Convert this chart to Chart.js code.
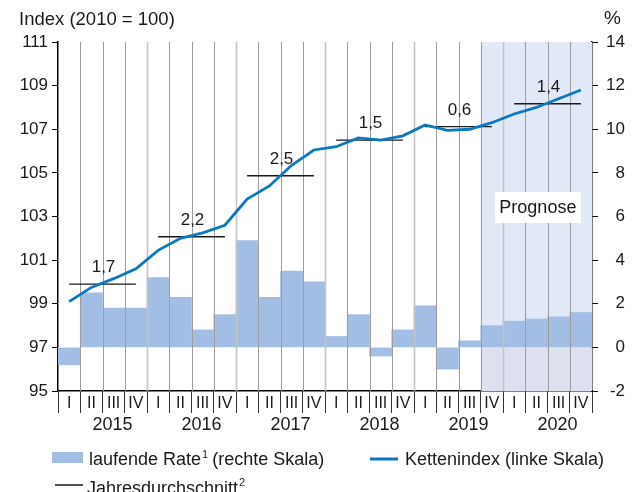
<!DOCTYPE html>
<html>
<head>
<meta charset="utf-8">
<script src="https://cdn.jsdelivr.net/npm/chart.js@4"></script>
<style>
  html, body { margin: 0; padding: 0; background: #fff; }
  #wrap { width: 634px; height: 492px; position: relative; }
</style>
</head>
<body>
<div id="wrap"><canvas id="chart"></canvas></div>
<script>
// Quarterly data 2015–2020
const years = ['2015', '2016', '2017', '2018', '2019', '2020'];
const quarterNames = ['I', 'II', 'III', 'IV'];

// laufende Rate (% , right scale)
const rate = [-0.8, 2.5, 1.8, 1.8,
              3.2, 2.3, 0.8, 1.5,
              4.9, 2.3, 3.5, 3.0,
              0.5, 1.5, -0.4, 0.8,
              1.9, -1.0, 0.3, 1.0,
              1.2, 1.3, 1.4, 1.6];

// Kettenindex (2010 = 100, left scale)
const chainIndex = [99.1, 99.75, 100.15, 100.6,
                    101.45, 102.0, 102.25, 102.6,
                    103.8, 104.4, 105.35, 106.05,
                    106.2, 106.6, 106.5, 106.7,
                    107.2, 106.95, 107.0, 107.3,
                    107.7, 108.0, 108.4, 108.8];

// Jahresdurchschnitt of the index and the annual rate printed above it
const annualAverage = [99.9, 102.07, 104.87, 106.5, 107.12, 108.17];
const annualRateLabels = ['1,7', '2,2', '2,5', '1,5', '0,6', '1,4'];

// first forecast quarter (2019 IV)
const forecastStart = 19;

const quarterLabels = years.flatMap(y => quarterNames.map(q => q + ' ' + y));
// average drawn from the first to the last quarter of each year
const averagePoints = annualAverage.flatMap(v => [v, null, null, v]);

const FONT = '"Liberation Sans", Arial, Helvetica, sans-serif';
const TEXT = '#1a1a1a';
const BAR = '#a3bee5';
const BLUE = '#0b78bf';

Chart.defaults.font.family = FONT;
Chart.defaults.font.size = 17;
Chart.defaults.color = TEXT;

function boundaries(xs) {
  const w = xs.getPixelForValue(1) - xs.getPixelForValue(0);
  const out = [];
  for (let i = 0; i <= quarterLabels.length; i++) {
    out.push(xs.getPixelForValue(0) - w / 2 + i * w);
  }
  return out;
}

const decorations = {
  id: 'decorations',
  beforeDatasetsDraw(chart) {
    const { ctx, chartArea: a, scales } = chart;
    const xb = boundaries(scales.x);
    const x0 = xb[forecastStart];
    const zero = scales.y1.getPixelForValue(0);
    ctx.save();
    ctx.fillStyle = '#e1e8f7';
    ctx.fillRect(x0, a.top, a.right - x0, zero - a.top);
    ctx.fillStyle = '#dde1ef';
    ctx.fillRect(x0, zero, a.right - x0, a.bottom - zero);
    ctx.restore();
  },
  afterDatasetDraw(chart, args) {
    if (args.meta.type !== 'bar') return;
    const { ctx, chartArea: a, scales } = chart;
    const xb = boundaries(scales.x);
    ctx.save();
    for (let i = 1; i < xb.length - 1; i++) {
      const yearEdge = i % 4 === 0;
      ctx.strokeStyle = yearEdge ? '#c4c4c4' : '#9c9c9c';
      ctx.lineWidth = yearEdge ? 1.6 : 1;
      ctx.beginPath();
      ctx.moveTo(Math.round(xb[i]) + 0.5, a.top);
      ctx.lineTo(Math.round(xb[i]) + 0.5, a.bottom);
      ctx.stroke();
    }
    ctx.restore();
  },
  afterDraw(chart) {
    const { ctx, chartArea: a, scales } = chart;
    const xs = scales.x, ys = scales.y;
    ctx.save();
    ctx.fillStyle = TEXT;

    // annual rate labels above the average lines
    ctx.font = '17px ' + FONT;
    ctx.textAlign = 'center';
    ctx.textBaseline = 'alphabetic';
    annualRateLabels.forEach((t, k) => {
      const xc = (xs.getPixelForValue(4 * k) + xs.getPixelForValue(4 * k + 3)) / 2 + 1;
      const yp = ys.getPixelForValue(annualAverage[k]);
      ctx.fillText(t, xc, yp - 12);
    });

    // year labels under the quarter numerals
    ctx.font = '18px ' + FONT;
    ctx.textBaseline = 'middle';
    years.forEach((y, k) => {
      const xc = (xs.getPixelForValue(4 * k + 1) + xs.getPixelForValue(4 * k + 2)) / 2 + 10;
      ctx.fillText(y, xc, 425);
    });

    // axis titles
    ctx.font = '18.5px ' + FONT;
    ctx.textAlign = 'left';
    ctx.textBaseline = 'alphabetic';
    ctx.fillText('Index (2010 = 100)', 19, 25);
    ctx.font = '19px ' + FONT;
    ctx.fillText('%', 604, 24);

    // forecast tag
    const xb = boundaries(xs);
    const bx = xb[forecastStart] + 14, bw = a.right - 11 - bx;
    ctx.fillStyle = '#fff';
    ctx.fillRect(bx, 192, bw, 31);
    ctx.fillStyle = TEXT;
    ctx.font = '18px ' + FONT;
    ctx.textAlign = 'center';
    ctx.textBaseline = 'middle';
    ctx.fillText('Prognose', bx + bw / 2, 208);

    // legend
    ctx.textAlign = 'left';
    ctx.textBaseline = 'alphabetic';
    ctx.fillStyle = BAR;
    ctx.fillRect(52, 452, 31, 11);
    ctx.fillStyle = TEXT;
    ctx.font = '18px ' + FONT;
    let tx = 89;
    ctx.fillText('laufende Rate', tx, 465);
    tx += ctx.measureText('laufende Rate').width + 1;
    ctx.font = '11px ' + FONT;
    ctx.fillText('1', tx, 458);
    tx += ctx.measureText('1').width + 4;
    ctx.font = '18px ' + FONT;
    ctx.fillText('(rechte Skala)', tx, 465);

    ctx.strokeStyle = BLUE;
    ctx.lineWidth = 3;
    ctx.beginPath();
    ctx.moveTo(370, 459);
    ctx.lineTo(398, 459);
    ctx.stroke();
    ctx.fillText('Kettenindex (linke Skala)', 405, 465);

    ctx.strokeStyle = '#1a1a1a';
    ctx.lineWidth = 1.5;
    ctx.beginPath();
    ctx.moveTo(55, 485);
    ctx.lineTo(83, 485);
    ctx.stroke();
    tx = 87;
    ctx.fillText('Jahresdurchschnitt', tx, 494);
    tx += ctx.measureText('Jahresdurchschnitt').width + 1;
    ctx.font = '11px ' + FONT;
    ctx.fillText('2', tx, 486);
    ctx.restore();
  }
};

new Chart(document.getElementById('chart'), {
  data: {
    labels: quarterLabels,
    datasets: [
      {
        type: 'line',
        label: 'Kettenindex (linke Skala)',
        data: chainIndex,
        yAxisID: 'y',
        borderColor: BLUE,
        borderWidth: 2.8,
        pointRadius: 0,
        tension: 0,
        order: 0
      },
      {
        type: 'line',
        label: 'Jahresdurchschnitt',
        data: averagePoints,
        yAxisID: 'y',
        borderColor: '#1a1a1a',
        borderWidth: 1.4,
        pointRadius: 0,
        spanGaps: true,
        segment: {
          borderColor: c => (c.p0DataIndex % 4 === 3 ? 'rgba(0,0,0,0)' : '#1a1a1a')
        },
        order: 1
      },
      {
        type: 'bar',
        label: 'laufende Rate (rechte Skala)',
        data: rate,
        yAxisID: 'y1',
        backgroundColor: BAR,
        borderWidth: 0,
        barPercentage: 1,
        categoryPercentage: 1,
        order: 2
      }
    ]
  },
  options: {
    responsive: true,
    maintainAspectRatio: false,
    animation: false,
    layout: { padding: { top: 42, right: 9, bottom: 0, left: 0 } },
    plugins: { legend: { display: false }, tooltip: { enabled: false } },
    scales: {
      x: {
        type: 'category',
        offset: true,
        grid: { offset: true, drawOnChartArea: false, drawTicks: true, tickLength: 22, tickColor: '#333', lineWidth: 1 },
        border: { color: '#000', width: 1.5 },
        ticks: {
          autoSkip: false, maxRotation: 0, padding: -19,
          font: { size: 16 },
          callback: (v, i) => quarterNames[i % 4]
        },
        afterFit: s => { s.height = 101; }
      },
      y: {
        position: 'left',
        min: 95, max: 111,
        ticks: { stepSize: 2, padding: 4, font: { size: 17 } },
        grid: { drawOnChartArea: false, tickLength: 6, tickColor: '#000' },
        border: { color: '#000', width: 1.5 },
        afterFit: s => { s.width = 58; }
      },
      y1: {
        position: 'right',
        min: -2, max: 14,
        ticks: { stepSize: 2, padding: 4, crossAlign: 'far', font: { size: 17 } },
        grid: { drawOnChartArea: false, tickLength: 6, tickColor: '#000' },
        border: { color: '#000', width: 1.5 },
        afterFit: s => { s.width = 33; }
      }
    }
  },
  plugins: [decorations]
});
</script>
</body>
</html>
